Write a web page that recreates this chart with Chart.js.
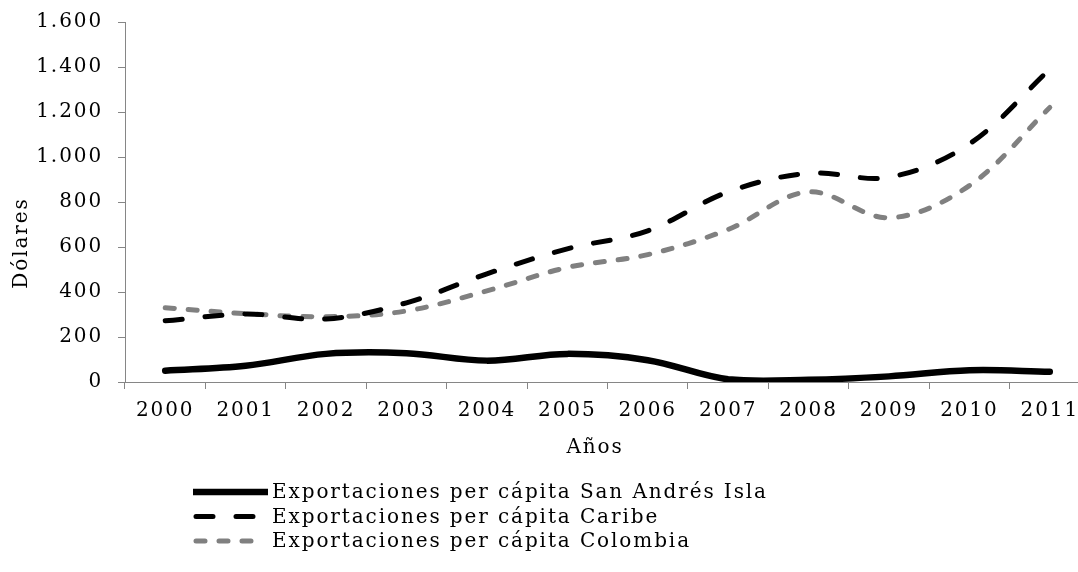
<!DOCTYPE html>
<html>
<head>
<meta charset="utf-8">
<script src="https://cdn.jsdelivr.net/npm/chart.js@4.4.1/dist/chart.umd.min.js"></script>
<style>
  html, body { margin: 0; padding: 0; background: #fff; overflow: hidden; }
  #wrap { position: relative; width: 1095px; height: 572px; }
</style>
</head>
<body>
<div id="wrap"><canvas id="chart"></canvas></div>
<script>
// --- Datos ---
const years = ["2000", "2001", "2002", "2003", "2004", "2005", "2006", "2007", "2008", "2009", "2010", "2011"];
const sanAndres = [50, 72, 125, 128, 95, 125, 97, 12, 10, 25, 52, 46];
const caribe = [272, 302, 280, 352, 481, 592, 672, 845, 928, 910, 1058, 1390];
const colombia = [330, 304, 290, 316, 405, 509, 566, 678, 845, 730, 873, 1220];
const yTicks = [0, 200, 400, 600, 800, 1000, 1200, 1400, 1600];
const seriesNames = [
  "Exportaciones per cápita San Andrés Isla",
  "Exportaciones per cápita Caribe",
  "Exportaciones per cápita Colombia"
];
const xTitle = "Años";
const yTitle = "Dólares";

const FONT = "'DejaVu Serif', 'Liberation Serif', serif";
const FONT_SIZE = 20;
const LETTER = "1.9px";
const AXIS_GREY = "#868686";

Chart.defaults.font.family = FONT;
Chart.defaults.font.size = FONT_SIZE;
Chart.defaults.color = "#000";

// separador de miles con punto
function fmt(v) {
  return String(v).replace(/\B(?=(\d{3})+(?!\d))/g, ".");
}

// letra un poco más abierta (la fuente original es más ancha)
const spacing = {
  id: "spacing",
  beforeDraw(chart) {
    chart.ctx.letterSpacing = LETTER;
  }
};

// --- Títulos de ejes y leyenda vertical ---
const extras = {
  id: "extras",
  afterDraw(chart) {
    const ctx = chart.ctx;
    const area = chart.chartArea;
    ctx.save();
    ctx.letterSpacing = LETTER;
    ctx.font = FONT_SIZE + "px " + FONT;
    ctx.fillStyle = "#000";
    ctx.textAlign = "center";
    ctx.textBaseline = "middle";

    // título eje X
    ctx.fillText(xTitle, area.left + 470, area.bottom + 66);

    // título eje Y
    ctx.save();
    ctx.translate(22, area.top + 221);
    ctx.rotate(-Math.PI / 2);
    ctx.fillText(yTitle, 0, 0);
    ctx.restore();

    // leyenda
    const x0 = area.left + 68;
    ctx.textAlign = "left";
    chart.data.datasets.forEach((ds, i) => {
      const y = 492 + i * 24.5;
      const dashed = ds.borderDash.length > 0;
      ctx.beginPath();
      ctx.strokeStyle = ds.borderColor;
      ctx.lineWidth = ds.borderWidth;
      ctx.lineCap = dashed ? "round" : "butt";
      ctx.setLineDash(ds.borderDash);
      ctx.moveTo(x0 + (dashed ? 3 : 0), y);
      ctx.lineTo(x0 + (dashed ? 66 : 75), y);
      ctx.stroke();
      ctx.setLineDash([]);
      ctx.fillText(ds.label, x0 + 79, y + 1);
    });
    ctx.restore();
  }
};

new Chart(document.getElementById("chart"), {
  type: "line",
  data: {
    labels: years,
    datasets: [
      {
        label: seriesNames[0],
        data: sanAndres,
        borderColor: "#000",
        borderWidth: 6.5,
        borderDash: [],
        borderCapStyle: "round",
        tension: 0.35,
        pointRadius: 0
      },
      {
        label: seriesNames[1],
        data: caribe,
        borderColor: "#000",
        borderWidth: 5,
        borderDash: [17, 23],
        borderCapStyle: "round",
        tension: 0.35,
        pointRadius: 0
      },
      {
        label: seriesNames[2],
        data: colombia,
        borderColor: "#808080",
        borderWidth: 5,
        borderDash: [9, 14],
        borderCapStyle: "round",
        tension: 0.35,
        pointRadius: 0
      }
    ]
  },
  options: {
    responsive: true,
    maintainAspectRatio: false,
    animation: false,
    layout: { padding: { top: 22, right: 5, bottom: 139, left: 0 } },
    plugins: {
      legend: { display: false },
      tooltip: { enabled: false }
    },
    scales: {
      x: {
        offset: true,
        grid: {
          display: true,
          offset: true,
          drawOnChartArea: false,
          tickLength: 7,
          tickColor: AXIS_GREY
        },
        border: { color: AXIS_GREY, width: 1 },
        ticks: { color: "#000", padding: 10, maxRotation: 0, autoSkip: false }
      },
      y: {
        min: yTicks[0],
        max: yTicks[yTicks.length - 1],
        afterBuildTicks: (scale) => { scale.ticks = yTicks.map(v => ({ value: v })); },
        grid: {
          display: true,
          drawOnChartArea: false,
          tickLength: 7,
          tickColor: AXIS_GREY
        },
        border: { color: AXIS_GREY, width: 1 },
        ticks: { color: "#000", padding: 15, callback: (v) => fmt(v) },
        afterFit: (scale) => {
          scale.width = 125;
          scale.paddingTop = 0;
          scale.paddingBottom = 0;
        }
      }
    }
  },
  plugins: [spacing, extras]
});
</script>
</body>
</html>
